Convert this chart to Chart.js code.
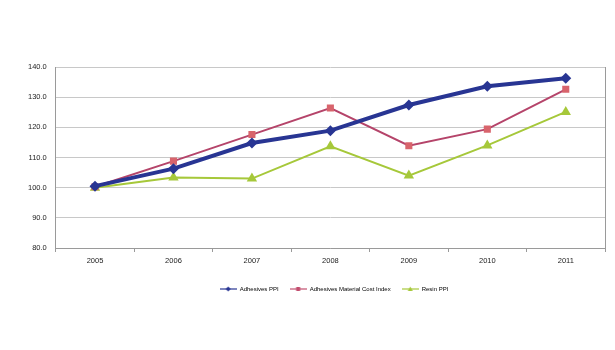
<!DOCTYPE html>
<html>
<head>
<meta charset="utf-8">
<script src="https://cdn.jsdelivr.net/npm/chart.js@4"></script>
<style>
  html, body { margin: 0; padding: 0; background: #fff; }
  #wrap { width: 615px; height: 350px; }
</style>
</head>
<body>
<div id="wrap"><canvas id="chart_ppi"></canvas></div>
<script>
const years = ["2005", "2006", "2007", "2008", "2009", "2010", "2011"];
const adhesivesPPI = [100.5, 106.3, 114.8, 118.9, 127.4, 133.6, 136.3];
const materialCostIndex = [100.3, 108.8, 117.6, 126.4, 113.9, 119.4, 132.6];
const resinPPI = [100.0, 103.4, 103.0, 113.7, 104.0, 114.0, 125.1];

// small legend icon: line with marker in the middle
function legendIcon(color, style) {
  const c = document.createElement("canvas");
  c.width = 17;
  c.height = 8;
  const g = c.getContext("2d");
  g.strokeStyle = color;
  g.fillStyle = color;
  g.lineWidth = 1.2;
  g.beginPath();
  g.moveTo(0, 4);
  g.lineTo(17, 4);
  g.stroke();
  g.beginPath();
  if (style == "diamond") {
    g.moveTo(8.5, 1.5); g.lineTo(11, 4); g.lineTo(8.5, 6.5); g.lineTo(6, 4);
  } else if (style == "square") {
    g.rect(6.5, 2, 4, 4);
  } else {
    g.moveTo(8.5, 1.5); g.lineTo(11, 6); g.lineTo(6, 6);
  }
  g.closePath();
  g.fill();
  return c;
}

const plotBorder = {
  id: "plotBorder",
  afterLayout(chart) {
    // legend sits a bit right of centre and lower in the original
    chart.legend.left += 22;
    chart.legend.right += 22;
    chart.legend.top += 6;
    chart.legend.bottom += 6;
  },
  afterDraw(chart) {
    const a = chart.chartArea;
    const ctx = chart.ctx;
    ctx.save();
    ctx.strokeStyle = "#9a9a9a";
    ctx.lineWidth = 1;
    ctx.beginPath();
    ctx.moveTo(a.right + 0.5, a.top);
    ctx.lineTo(a.right + 0.5, a.bottom + 4);
    ctx.stroke();
    ctx.restore();
  },
};

const icons = [
  legendIcon("#283593", "diamond"),
  legendIcon("#c24d6e", "square"),
  legendIcon("#a6c83a", "triangle"),
];

var ctx = document.getElementById("chart_ppi").getContext("2d");
var myChart = new Chart(ctx, {
  type: "line",
  data: {
    labels: years,
    datasets: [
      {
        label: "Adhesives PPI",
        data: adhesivesPPI,
        borderColor: "#283593",
        backgroundColor: "#283593",
        borderWidth: 4,
        pointStyle: "rectRot",
        pointRadius: 5.5,
        pointBorderWidth: 0,
        tension: 0,
      },
      {
        label: "Adhesives Material Cost Index",
        data: materialCostIndex,
        borderColor: "#b5446a",
        backgroundColor: "#d8646c",
        borderWidth: 2,
        pointStyle: "rect",
        pointRadius: 5,
        pointBorderWidth: 0,
        tension: 0,
      },
      {
        label: "Resin PPI",
        data: resinPPI,
        borderColor: "#a6c83a",
        backgroundColor: "#a6c83a",
        borderWidth: 2,
        pointStyle: "triangle",
        pointRadius: 6,
        pointBorderWidth: 0,
        tension: 0,
      },
    ],
  },
  options: {
    animation: false,
    responsive: true,
    maintainAspectRatio: false,
    layout: {
      padding: { top: 67, left: 19, right: 10, bottom: 54 },
    },
    plugins: {
      tooltip: { enabled: false },
      legend: {
        display: true,
        position: "bottom",
        labels: {
          color: "#222",
          font: { family: "Liberation Sans", size: 6 },
          usePointStyle: true,
          pointStyleWidth: 17,
          boxWidth: 17,
          padding: 11,
          generateLabels: function (chart) {
            return chart.data.datasets.map((ds, i) => ({
              text: ds.label,
              pointStyle: icons[i],
              fillStyle: ds.borderColor,
              strokeStyle: ds.borderColor,
              lineWidth: 0,
              datasetIndex: i,
              hidden: false,
            }));
          },
        },
      },
    },
    scales: {
      x: {
        offset: true,
        grid: {
          offset: true,
          drawOnChartArea: false,
          drawTicks: true,
          tickLength: 4,
          color: "#9a9a9a",
        },
        border: { color: "#9a9a9a", width: 1 },
        ticks: {
          color: "#222",
          font: { family: "Liberation Sans", size: 7.5 },
          padding: 4,
        },
      },
      y: {
        min: 80,
        max: 140,
        grid: {
          color: "#c8c8c8",
          lineWidth: 1,
          drawTicks: false,
        },
        border: { color: "#9a9a9a", width: 1 },
        ticks: {
          stepSize: 10,
          color: "#222",
          padding: 9,
          font: { family: "Liberation Sans", size: 7.5 },
          callback: function (v) {
            return Number(v).toFixed(1);
          },
        },
      },
    },
  },
  plugins: [plotBorder],
});
</script>
</body>
</html>
